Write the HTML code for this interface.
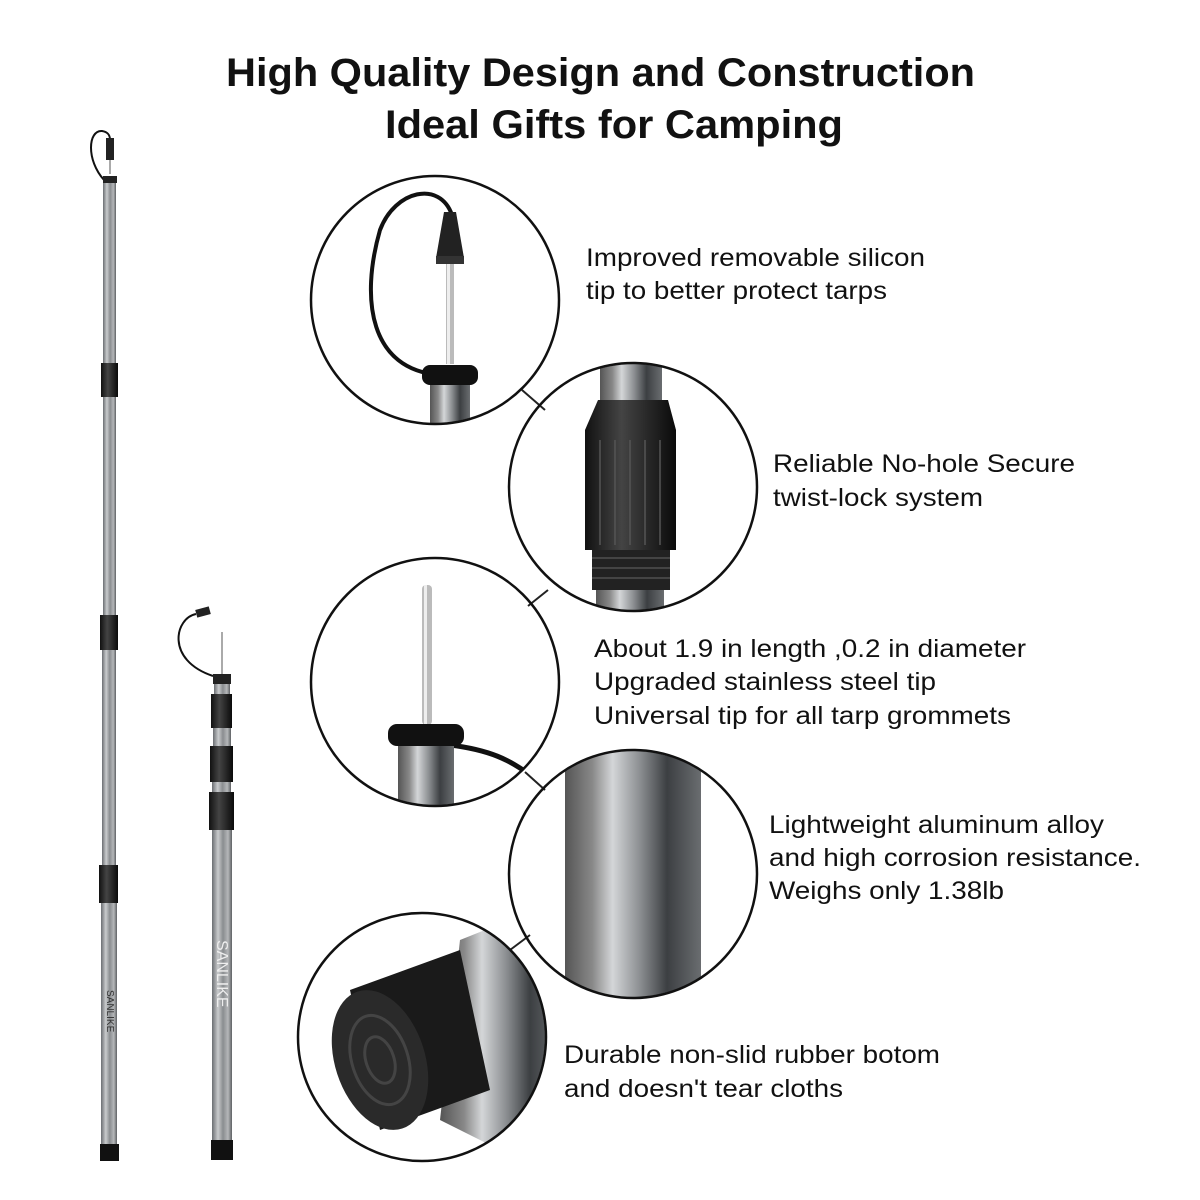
<!DOCTYPE html>
<html><head><meta charset="utf-8"><style>
html,body{margin:0;padding:0;background:#fff;}
svg{display:block;}
text{font-family:"Liberation Sans",sans-serif;}
</style></head><body>
<svg width="1200" height="1200" viewBox="0 0 1200 1200" xmlns="http://www.w3.org/2000/svg">
<defs>
<linearGradient id="pg" x1="0" x2="1" y1="0" y2="0">
<stop offset="0" stop-color="#6b6e72"/><stop offset="0.3" stop-color="#c9cbcd"/><stop offset="0.55" stop-color="#8a8d90"/><stop offset="0.8" stop-color="#b5b7b9"/><stop offset="1" stop-color="#5e6164"/></linearGradient>
<linearGradient id="bk" x1="0" x2="1"><stop offset="0" stop-color="#111"/><stop offset="0.4" stop-color="#444"/><stop offset="1" stop-color="#0a0a0a"/></linearGradient>
<linearGradient id="big" x1="0" x2="1"><stop offset="0" stop-color="#555"/><stop offset="0.2" stop-color="#888"/><stop offset="0.35" stop-color="#d4d6d8"/><stop offset="0.55" stop-color="#8c8f92"/><stop offset="0.75" stop-color="#3c3f42"/><stop offset="1" stop-color="#6a6d70"/></linearGradient>
<clipPath id="c1"><circle cx="435" cy="300" r="123"/></clipPath>
<clipPath id="c2"><circle cx="633" cy="487" r="123"/></clipPath>
<clipPath id="c3"><circle cx="435" cy="682" r="123"/></clipPath>
<clipPath id="c4"><circle cx="633" cy="874" r="123"/></clipPath>
<clipPath id="c5"><circle cx="422" cy="1037" r="123"/></clipPath>
</defs>
<text x="226" y="86" font-size="40" font-weight="bold" fill="#111" textLength="749" lengthAdjust="spacingAndGlyphs">High Quality Design and Construction</text>
<text x="385" y="138" font-size="40" font-weight="bold" fill="#111" textLength="458" lengthAdjust="spacingAndGlyphs">Ideal Gifts for Camping</text>

<!-- left pole -->
<path d="M104 180 C86 160 88 130 102 131 C108 132 110 135 110 140" stroke="#111" stroke-width="2" fill="none"/>
<rect x="106" y="138" width="8" height="22" fill="#222"/>
<rect x="109" y="160" width="2" height="14" fill="#aaa"/>
<rect x="103" y="176" width="14" height="7" fill="#222"/>
<rect x="103" y="183" width="13" height="180" fill="url(#pg)"/>
<rect x="101" y="363" width="17" height="34" fill="url(#bk)"/>
<rect x="103" y="397" width="13" height="218" fill="url(#pg)"/>
<rect x="100" y="615" width="18" height="35" fill="url(#bk)"/>
<rect x="102" y="650" width="14" height="215" fill="url(#pg)"/>
<rect x="99" y="865" width="19" height="38" fill="url(#bk)"/>
<rect x="101" y="903" width="16" height="242" fill="url(#pg)"/>
<rect x="100" y="1144" width="19" height="17" fill="#111"/>
<text transform="translate(107,990) rotate(90)" font-size="10" fill="#333">SANLIKE</text>

<!-- right pole -->
<path d="M213 676 C165 660 175 618 196 614" stroke="#111" stroke-width="2" fill="none"/>
<rect x="196" y="608" width="14" height="8" fill="#222" transform="rotate(-15 203 612)"/>
<rect x="221" y="632" width="2" height="42" fill="#aaa"/>
<rect x="213" y="674" width="18" height="10" fill="#222"/>
<rect x="214" y="684" width="16" height="10" fill="url(#pg)"/>
<rect x="211" y="694" width="21" height="34" fill="url(#bk)"/>
<rect x="213" y="728" width="18" height="18" fill="url(#pg)"/>
<rect x="210" y="746" width="23" height="36" fill="url(#bk)"/>
<rect x="212" y="782" width="19" height="10" fill="url(#pg)"/>
<rect x="209" y="792" width="25" height="38" fill="url(#bk)"/>
<rect x="212" y="830" width="20" height="312" fill="url(#pg)"/>
<rect x="211" y="1140" width="22" height="20" fill="#111"/>
<text transform="translate(217,940) rotate(90)" font-size="16" fill="#eee">SANLIKE</text>

<!-- connectors -->
<line x1="522" y1="390" x2="545" y2="410" stroke="#222" stroke-width="2"/>
<line x1="528" y1="606" x2="548" y2="590" stroke="#222" stroke-width="2"/>
<line x1="525" y1="772" x2="545" y2="790" stroke="#222" stroke-width="2"/>
<line x1="510" y1="950" x2="530" y2="935" stroke="#222" stroke-width="2"/>

<!-- circle 1 -->
<g clip-path="url(#c1)">
<path d="M440 375 C370 370 360 300 380 230 C395 190 440 180 452 215" stroke="#111" stroke-width="4" fill="none"/>
<path d="M436 258 L444 212 L456 212 L464 258 Z" fill="#222"/>
<rect x="436" y="256" width="28" height="8" fill="#333"/>
<rect x="446" y="264" width="8" height="100" fill="#bbb"/>
<rect x="447" y="264" width="3" height="100" fill="#eee"/>
<rect x="422" y="365" width="56" height="20" rx="8" fill="#111"/>
<rect x="430" y="385" width="40" height="50" fill="url(#big)"/>
</g>
<circle cx="435" cy="300" r="124" fill="none" stroke="#111" stroke-width="2.5"/>
<!-- circle 2 -->
<g clip-path="url(#c2)">
<rect x="600" y="360" width="62" height="40" fill="url(#big)"/>
<path d="M598 400 L668 400 L676 430 L676 550 L585 550 L585 430 Z" fill="url(#bk)"/>
<g stroke="#555" stroke-width="1.5"><line x1="600" y1="440" x2="600" y2="545"/><line x1="615" y1="440" x2="615" y2="545"/><line x1="630" y1="440" x2="630" y2="545"/><line x1="645" y1="440" x2="645" y2="545"/><line x1="660" y1="440" x2="660" y2="545"/></g>
<rect x="592" y="550" width="78" height="40" fill="#222"/>
<g stroke="#666"><line x1="592" y1="558" x2="670" y2="558"/><line x1="592" y1="568" x2="670" y2="568"/><line x1="592" y1="578" x2="670" y2="578"/></g>
<rect x="596" y="590" width="68" height="30" fill="url(#big)"/>
</g>
<circle cx="633" cy="487" r="124" fill="none" stroke="#111" stroke-width="2.5"/>
<!-- circle 3 -->
<g clip-path="url(#c3)">
<rect x="422" y="585" width="10" height="140" rx="4" fill="#bbb"/>
<rect x="424" y="585" width="3" height="140" fill="#eee"/>
<path d="M450 745 C490 750 510 760 530 775" stroke="#111" stroke-width="5" fill="none"/>
<rect x="388" y="724" width="76" height="22" rx="9" fill="#111"/>
<rect x="398" y="746" width="56" height="70" fill="url(#big)"/>
</g>
<circle cx="435" cy="682" r="124" fill="none" stroke="#111" stroke-width="2.5"/>
<!-- circle 4 -->
<g clip-path="url(#c4)">
<rect x="565" y="745" width="136" height="260" fill="url(#big)"/>
</g>
<circle cx="633" cy="874" r="124" fill="none" stroke="#111" stroke-width="2.5"/>
<!-- circle 5 -->
<g clip-path="url(#c5)">
<path d="M460 940 L560 900 L560 1180 L440 1120 Z" fill="url(#big)"/>
<path d="M350 990 L460 950 L490 1090 L380 1130 Z" fill="#1a1a1a"/>
<ellipse cx="380" cy="1060" rx="45" ry="72" transform="rotate(-18 380 1060)" fill="#2a2a2a"/>
<ellipse cx="380" cy="1060" rx="28" ry="46" transform="rotate(-18 380 1060)" fill="none" stroke="#444" stroke-width="3"/>
<ellipse cx="380" cy="1060" rx="14" ry="24" transform="rotate(-18 380 1060)" fill="none" stroke="#444" stroke-width="3"/>
</g>
<circle cx="422" cy="1037" r="124" fill="none" stroke="#111" stroke-width="2.5"/>

<g font-size="25" fill="#111" lengthAdjust="spacingAndGlyphs">
<text x="586" y="266" textLength="339" lengthAdjust="spacingAndGlyphs">Improved removable silicon</text>
<text x="586" y="299" textLength="301" lengthAdjust="spacingAndGlyphs">tip to better protect tarps</text>
<text x="773" y="472" textLength="302" lengthAdjust="spacingAndGlyphs">Reliable No-hole Secure</text>
<text x="773" y="506" textLength="210" lengthAdjust="spacingAndGlyphs">twist-lock system</text>
<text x="594" y="657" textLength="432" lengthAdjust="spacingAndGlyphs">About 1.9 in length ,0.2 in diameter</text>
<text x="594" y="690" textLength="342" lengthAdjust="spacingAndGlyphs">Upgraded stainless steel tip</text>
<text x="594" y="724" textLength="417" lengthAdjust="spacingAndGlyphs">Universal tip for all tarp grommets</text>
<text x="769" y="833" textLength="335" lengthAdjust="spacingAndGlyphs">Lightweight aluminum alloy</text>
<text x="769" y="866" textLength="372" lengthAdjust="spacingAndGlyphs">and high corrosion resistance.</text>
<text x="769" y="899" textLength="235" lengthAdjust="spacingAndGlyphs">Weighs only 1.38lb</text>
<text x="564" y="1063" textLength="376" lengthAdjust="spacingAndGlyphs">Durable non-slid rubber botom</text>
<text x="564" y="1097" textLength="279" lengthAdjust="spacingAndGlyphs">and doesn't tear cloths</text>
</g>
</svg>
</body></html>
